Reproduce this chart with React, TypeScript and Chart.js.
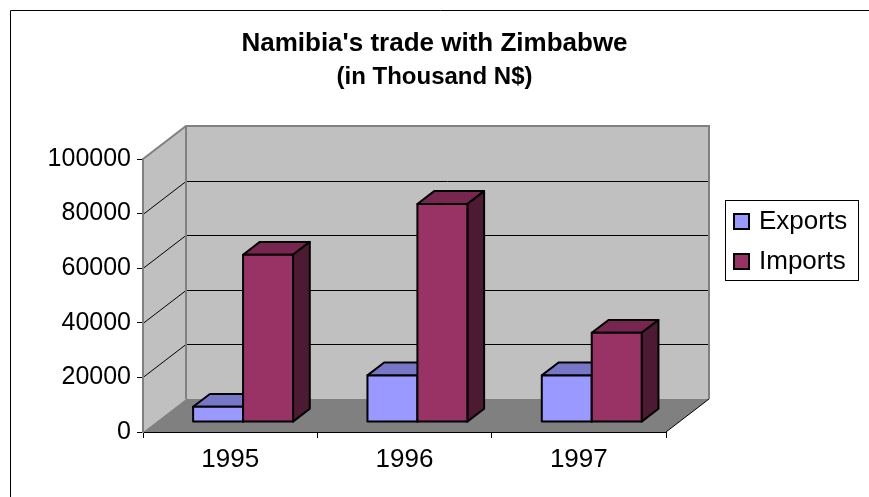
import React, { useEffect, useRef } from "react";
import { Chart, registerables } from "chart.js";

Chart.register(...registerables);
Chart.defaults.font.family = "'Liberation Sans', Arial, sans-serif";

const categories = ["1995", "1996", "1997"];
const seriesNames = ["Exports", "Imports"];
const exportsValues = [5600, 17100, 17100];
const importsValues = [61300, 79900, 32700];
const yTicks = [0, 20000, 40000, 60000, 80000, 100000];
const titleText = "Namibia's trade with Zimbabwe";
const subtitleText = "(in Thousand N$)";

const WALL_DX = 43;
const WALL_DY = 33;
const BAR_FRONT = 0.3;
const BAR_DEPTH = 0.39;

const faceColors = [
  { front: "#9999FF", top: "#7777C8", side: "#5555A0" },
  { front: "#993366", top: "#77264F", side: "#4D1A33" },
];

function poly(ctx: CanvasRenderingContext2D, pts: number[]) {
  ctx.beginPath();
  ctx.moveTo(pts[0], pts[1]);
  for (let i = 2; i < pts.length; i += 2) ctx.lineTo(pts[i], pts[i + 1]);
  ctx.closePath();
}

const threeD = {
  id: "threeD",
  beforeDraw(chart: any) {
    const ctx: CanvasRenderingContext2D = chart.ctx;
    const { left, right, top, bottom } = chart.chartArea;
    const ys = chart.scales.y;
    ctx.save();
    // outer frame
    ctx.strokeStyle = "#000";
    ctx.lineWidth = 1;
    ctx.beginPath();
    ctx.moveTo(10.5, chart.height + 5);
    ctx.lineTo(10.5, 10.5);
    ctx.lineTo(chart.width + 5, 10.5);
    ctx.stroke();
    // left wall
    ctx.fillStyle = "#C0C0C0";
    poly(ctx, [left, bottom, left, top, left + WALL_DX, top - WALL_DY, left + WALL_DX, bottom - WALL_DY]);
    ctx.fill();
    // back wall
    ctx.fillRect(left + WALL_DX, top - WALL_DY, right - left, bottom - top);
    // floor
    ctx.fillStyle = "#808080";
    poly(ctx, [left, bottom, right, bottom, right + WALL_DX, bottom - WALL_DY, left + WALL_DX, bottom - WALL_DY]);
    ctx.fill();
    // gridlines
    ctx.strokeStyle = "#000";
    ctx.lineWidth = 1;
    for (const v of yTicks) {
      if (v <= ys.min || v >= ys.max) continue;
      const py = Math.round(ys.getPixelForValue(v)) + 0.5;
      ctx.beginPath();
      ctx.moveTo(left, py);
      ctx.lineTo(left + WALL_DX, py - WALL_DY);
      ctx.lineTo(right + WALL_DX, py - WALL_DY);
      ctx.stroke();
    }
    // floor right edge
    ctx.beginPath();
    ctx.moveTo(right, bottom);
    ctx.lineTo(right + WALL_DX, bottom - WALL_DY);
    ctx.stroke();
    // wall edges
    ctx.strokeStyle = "#808080";
    ctx.lineWidth = 2;
    ctx.beginPath();
    ctx.moveTo(left, top);
    ctx.lineTo(left + WALL_DX, top - WALL_DY);
    ctx.lineTo(right + WALL_DX, top - WALL_DY);
    ctx.lineTo(right + WALL_DX, bottom - WALL_DY);
    ctx.moveTo(left + WALL_DX, top - WALL_DY);
    ctx.lineTo(left + WALL_DX, bottom - WALL_DY);
    ctx.stroke();
    ctx.restore();
  },
  beforeDatasetsDraw(chart: any) {
    chart.ctx.save();
    chart.ctx.translate(WALL_DX * BAR_FRONT, -WALL_DY * BAR_FRONT);
  },
  afterDatasetsDraw(chart: any) {
    const ctx: CanvasRenderingContext2D = chart.ctx;
    const bdx = WALL_DX * BAR_DEPTH;
    const bdy = WALL_DY * BAR_DEPTH;
    ctx.strokeStyle = "#000";
    ctx.lineWidth = 2;
    ctx.lineJoin = "round";
    const nCat = chart.data.labels.length;
    const nDs = chart.data.datasets.length;
    // draw boxes left to right so that nearer faces cover hidden ones
    for (let c = 0; c < nCat; c++) {
      for (let d = 0; d < nDs; d++) {
        const el = chart.getDatasetMeta(d).data[c];
        if (!el) continue;
        const colors = faceColors[d];
        const { x, y, base, width } = el.getProps(["x", "y", "base", "width"], true);
        const x1 = x - width / 2;
        const x2 = x + width / 2;
        ctx.fillStyle = colors.top;
        poly(ctx, [x1, y, x1 + bdx, y - bdy, x2 + bdx, y - bdy, x2, y]);
        ctx.fill();
        ctx.stroke();
        ctx.fillStyle = colors.side;
        poly(ctx, [x2, y, x2 + bdx, y - bdy, x2 + bdx, base - bdy, x2, base]);
        ctx.fill();
        ctx.stroke();
        ctx.fillStyle = colors.front;
        ctx.fillRect(x1, y, width, base - y);
        ctx.strokeRect(x1, y, width, base - y);
      }
    }
    ctx.restore();
  },
  afterDraw(chart: any) {
    const ctx: CanvasRenderingContext2D = chart.ctx;
    ctx.save();
    ctx.strokeStyle = "#000";
    ctx.lineWidth = 1;
    ctx.strokeRect(725.5, 200.5, 133, 80);
    chart.data.datasets.forEach((ds: any, i: number) => {
      const cy = 221.5 + i * 40;
      ctx.fillStyle = ds.backgroundColor;
      ctx.fillRect(734, cy - 7.5, 15, 15);
      ctx.lineWidth = 2;
      ctx.strokeRect(734, cy - 7.5, 15, 15);
      ctx.fillStyle = "#000";
      ctx.font = "26px 'Liberation Sans', Arial, sans-serif";
      ctx.textBaseline = "middle";
      ctx.textAlign = "left";
      ctx.fillText(ds.label, 759, cy);
    });
    ctx.restore();
  },
};

export default function App() {
  const ref = useRef<HTMLCanvasElement>(null);
  useEffect(() => {
    const chart = new Chart(ref.current as HTMLCanvasElement, {
      type: "bar",
      data: {
        labels: categories,
        datasets: [
          { label: seriesNames[0], data: exportsValues, backgroundColor: faceColors[0].front, hoverBackgroundColor: faceColors[0].front, borderWidth: 0, clip: false as any },
          { label: seriesNames[1], data: importsValues, backgroundColor: faceColors[1].front, hoverBackgroundColor: faceColors[1].front, borderWidth: 0, clip: false as any },
        ],
      },
      options: {
        responsive: false,
        maintainAspectRatio: false,
        animation: false,
        events: [],
        layout: { padding: { top: 0, left: 0, right: 0, bottom: 0 } },
        datasets: { bar: { categoryPercentage: 0.573, barPercentage: 1 } },
        plugins: {
          legend: { display: false },
          tooltip: { enabled: false },
          title: {
            display: true,
            text: titleText,
            color: "#000",
            font: { size: 26, weight: "bold" },
            padding: { top: 28, bottom: 0 },
          },
          subtitle: {
            display: true,
            text: subtitleText,
            color: "#000",
            font: { size: 24, weight: "bold" },
            padding: { top: 4, bottom: 67 },
          },
        },
        scales: {
          x: {
            offset: true,
            grid: { display: true, drawOnChartArea: false, drawTicks: true, tickLength: 6, color: "#000", offset: true },
            border: { display: true, color: "#000", width: 1 },
            ticks: { color: "#000", font: { size: 26 }, padding: 6 },
            afterFit: (s: any) => { s.height = 65; },
          },
          y: {
            min: 0,
            max: 100000,
            afterBuildTicks: (s: any) => { s.ticks = yTicks.map((v) => ({ value: v })); },
            ticks: { color: "#000", font: { size: 25 }, padding: 6, callback: (v: any) => String(v) },
            grid: { drawOnChartArea: false, drawTicks: true, tickLength: 6, color: "#000" },
            border: { display: true, color: "#808080", width: 2 },
            afterFit: (s: any) => { s.width = 143; },
          },
          legendSpace: {
            type: "linear",
            axis: "y",
            position: "right",
            display: true,
            grid: { display: false },
            border: { display: false },
            ticks: { display: false },
            afterFit: (s: any) => { s.width = 203; },
          },
        },
      } as any,
      plugins: [threeD as any],
    });
    return () => chart.destroy();
  }, []);
  return (
    <div style={{ position: "absolute", left: 0, top: 0, width: 869, height: 497, background: "#fff" }}>
      <canvas ref={ref} width={869} height={497} style={{ display: "block" }} />
    </div>
  );
}
